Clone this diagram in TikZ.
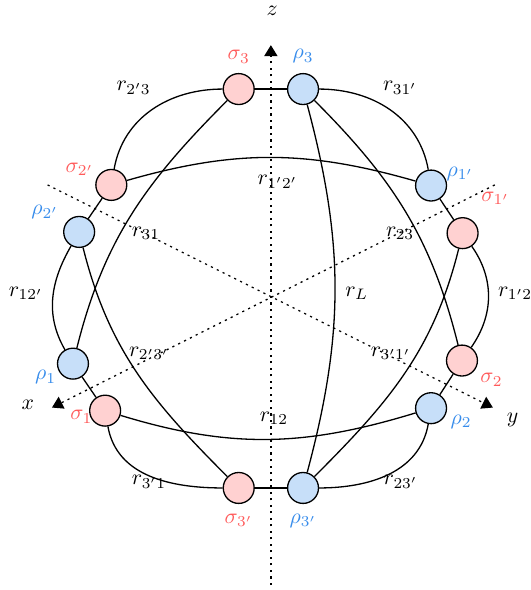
\documentclass[tikz,border=0pt]{standalone}
\usepackage{amsmath}
\usetikzlibrary{arrows.meta}
\definecolor{sigred}{RGB}{255,90,90}
\definecolor{rhoblue}{RGB}{55,140,235}

\begin{document}
\begin{tikzpicture}[>={Triangle[length=5pt,width=6pt]},
  vtx/.style={circle, draw, semithick, minimum size=5mm, inner sep=0pt},
  sig/.style={vtx, fill=sigred!28},
  rho/.style={vtx, fill=rhoblue!28},
  slab/.style={text=sigred, label distance=1pt},
  rlab/.style={text=rhoblue, label distance=1pt},
  axis/.style={->, dash pattern=on 1pt off 2pt, semithick},
  ed/.style={semithick}]
\useasboundingbox (-4.38,-4.74) rectangle (4.20,4.80);
% axes
\coordinate (zb) at (0,-4.66);
\coordinate (zt) at (0,4.07);
\coordinate (xb) at (3.62,1.81);
\coordinate (xt) at (-3.54,-1.79);
\coordinate (yb) at (-3.61,1.81);
\coordinate (yt) at (3.59,-1.79);
\draw[axis] (zb) -- (zt);
\draw[axis] (xb) -- (xt);
\draw[axis] (yb) -- (yt);
\node (zl) at (0.02,4.62) {$z$};
\node (xl) at (-3.93,-1.75) {$x$};
\node (yl) at (3.91,-1.99) {$y$};
% sigma / rho sites
\node[sig, label={[slab]above:$\sigma_3$}]      (s3)  at (-0.52,3.36) {};
\node[rho, label={[rlab]above:$\rho_3$}]        (r3)  at (0.52,3.36)  {};
\node[sig, label={[slab,xshift=3pt,yshift=-2.8pt]155:$\sigma_{2'}$}] (s2p) at (-2.58,1.81) {};
\node[rho, label={[rlab,xshift=-3.7pt,yshift=-5.5pt]30:$\rho_{1'}$}] (r1p) at (2.59,1.80) {};
\node[rho, label={[rlab,xshift=1.4pt,yshift=-1.4pt]153:$\rho_{2'}$}] (r2p) at (-3.10,1.05) {};
\node[sig, label={[slab,yshift=2.8pt]53:$\sigma_{1'}$}]              (s1p) at (3.10,1.03) {};
\node[rho, label={[rlab,xshift=3.7pt,yshift=3.2pt]200:$\rho_1$}]     (r1)  at (-3.20,-1.08) {};
\node[sig, label={[slab,xshift=-2.3pt,yshift=1.8pt]-30:$\sigma_2$}]  (s2)  at (3.09,-1.03) {};
\node[sig, label={[slab,xshift=6pt,yshift=5pt]190:$\sigma_1$}]       (s1)  at (-2.68,-1.84) {};
\node[rho, label={[rlab,xshift=-2.3pt,yshift=3.7pt]-22:$\rho_2$}]    (r2)  at (2.59,-1.80) {};
\node[sig, label={[slab]below:$\sigma_{3'}$}]   (s3p) at (-0.52,-3.09) {};
\node[rho, label={[rlab]below:$\rho_{3'}$}]     (r3p) at (0.52,-3.09) {};
% short links
\foreach \a/\b in {s3/r3, s3p/r3p, s2p/r2p, r1p/s1p, r1/s1, s2/r2}
  \draw[ed] (\a) -- (\b);
% curved links
\foreach \a/\b/\o/\i in {s3/s2p/180/80, r3/r1p/0/100, s2p/r1p/16/164, s1/r2/-17/-163,
    r2p/r1/240/120, s1p/s2/-55/55, s1/s3p/-80/180, r2/r3p/-100/0,
    s3/r1/225/76, r2p/s3p/-76/135, r3/s2/-45/104, s1p/r3p/256/45, r3/r3p/-75/75}
  \draw[ed] (\a) to[out=\o, in=\i] (\b);
% distances
\node (l23p) at (-2.22,3.38)  {$r_{2'3}$};
\node (l31p) at (2.09,3.38)   {$r_{31'}$};
\node (l12pp) at (0.11,1.86)  {$r_{1'2'}$};
\node (l31) at (-2.02,1.03)   {$r_{31}$};
\node (l23) at (2.09,1.03)    {$r_{23}$};
\node (l12p) at (-3.96,0.06)  {$r_{12'}$};
\node (l1p2) at (3.95,0.06)   {$r_{1'2}$};
\node (lL) at (1.39,0.06)     {$r_L$};
\node (l2p3p) at (-1.97,-0.91) {$r_{2'3'}$};
\node (l3p1p) at (1.94,-0.91) {$r_{3'1'}$};
\node (l12) at (0.05,-1.96)   {$r_{12}$};
\node (l3p1) at (-1.97,-2.99) {$r_{3'1}$};
\node (l23pp) at (2.10,-2.99) {$r_{23'}$};
\end{tikzpicture}
\end{document}
